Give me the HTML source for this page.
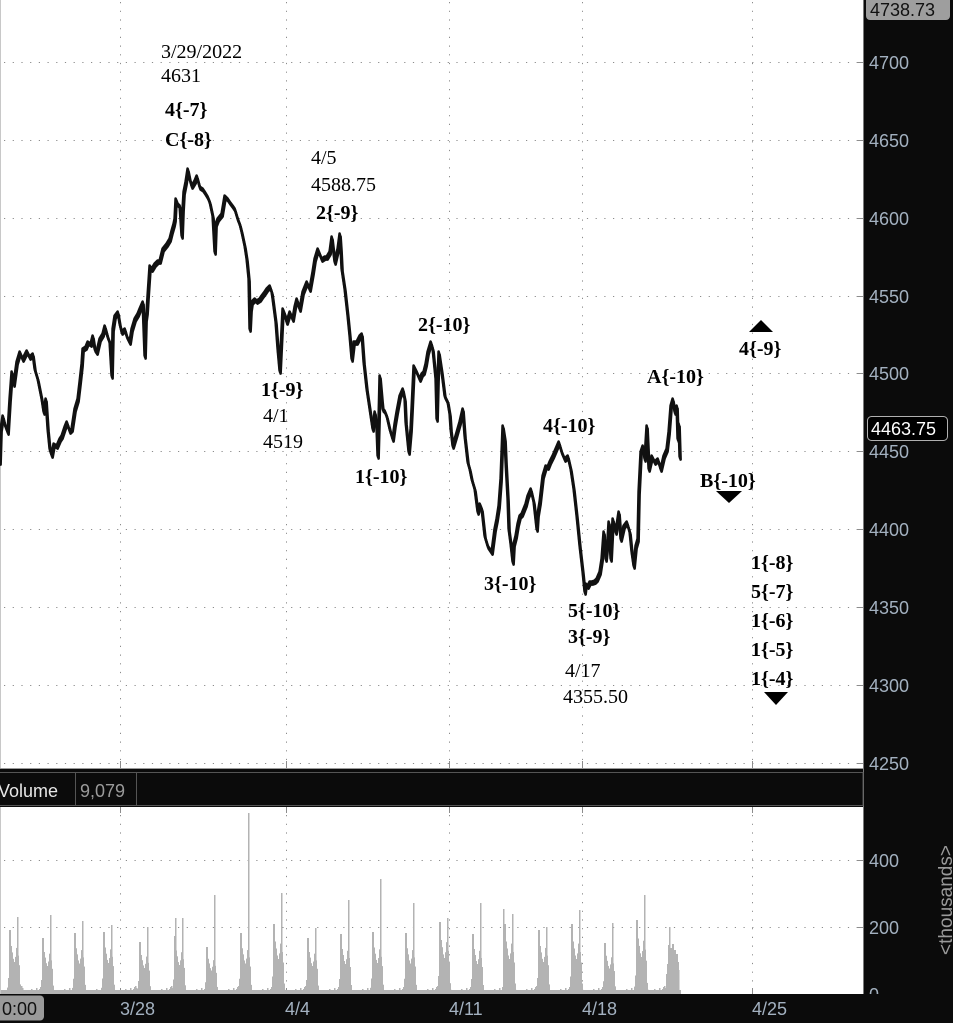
<!DOCTYPE html>
<html><head><meta charset="utf-8">
<style>
html,body{margin:0;padding:0;background:#0b0b0b;}
svg{display:block;}
.ax{font-family:"Liberation Sans","DejaVu Sans",sans-serif;font-size:18px;fill:#a3b1c0;}
.an{font-family:"Liberation Serif","Times New Roman",serif;font-size:20px;fill:#000;}
.b{font-weight:bold;}
</style></head>
<body>
<svg width="953" height="1023" viewBox="0 0 953 1023" xmlns="http://www.w3.org/2000/svg">
<defs>
<g id="vb">
<rect x="-10" y="-10" width="2" height="10"/>
<rect x="-9" y="-25" width="2" height="25"/>
<rect x="-8" y="-100" width="2" height="100"/>
<rect x="-7" y="-75" width="2" height="75"/>
<rect x="-6" y="-65" width="2" height="65"/>
<rect x="-5" y="-55" width="2" height="55"/>
<rect x="-4" y="-50" width="2" height="50"/>
<rect x="-3" y="-48" width="2" height="48"/>
<rect x="-2" y="-58" width="2" height="58"/>
<rect x="-1" y="-72" width="2" height="72"/>
<rect x="0" y="-60" width="2" height="60"/>
<rect x="1" y="-45" width="2" height="45"/>
<rect x="2" y="-15" width="2" height="15"/>
<rect x="3" y="-6" width="1.5" height="6"/>
</g>
<g id="lo">
<rect x="4" y="-2" width="1.5" height="2"/><rect x="5" y="-3" width="1.5" height="3"/>
<rect x="6" y="-2" width="1.5" height="2"/><rect x="7" y="-4" width="1.5" height="4"/>
<rect x="8" y="-3" width="1.5" height="3"/><rect x="9" y="-2" width="1.5" height="2"/>
<rect x="10" y="-3" width="1.5" height="3"/><rect x="11" y="-5" width="1.5" height="5"/>
<rect x="12" y="-3" width="1.5" height="3"/><rect x="13" y="-2" width="1.5" height="2"/>
<rect x="14" y="-4" width="1.5" height="4"/><rect x="15" y="-3" width="1.5" height="3"/>
<rect x="16" y="-6" width="1.5" height="6"/><rect x="17" y="-4" width="1.5" height="4"/>
<rect x="18" y="-3" width="1.5" height="3"/><rect x="19" y="-5" width="1.5" height="5"/>
<rect x="20" y="-7" width="1.5" height="7"/><rect x="21" y="-8" width="1.5" height="8"/>
<rect x="22" y="-6" width="1.5" height="6"/>
</g>
<polyline id="px" fill="none" stroke="#111" stroke-width="2.6" stroke-linejoin="round" stroke-linecap="round" points="0,463 1,430 3,417 5,425 8,433 10,400 12,373 14,385 17,363 20,353 23,360 27,352 30,358 33,355 35,370 38,380 40,390 42,400 44,413 46,400 48,430 50,450 52,456 54,445 57,447 60,440 62,437 65,428 67,423 70,432 72,430 75,410 78,400 80,383 82,365 83,350 86,348 88,343 91,345 93,337 95,350 97,353 100,340 103,335 105,327 108,338 110,343 112,377 113,330 115,317 118,313 120,325 122,333 125,330 127,337 130,343 132,330 135,320 138,315 140,310 143,303 145,357 146,320 147,313 148,297 150,267 152,270 155,265 158,262 160,262 163,250 167,245 170,240 172,232 174,225 175,220 176,200 178,205 180,207 182,237 183,210 184,193 186,183 188,170 190,180 192,187 195,182 197,177 200,188 203,190 205,193 208,198 210,203 213,217 215,253 216,225 218,220 222,215 225,197 228,200 230,203 233,207 235,210 238,220 240,225 242,233 245,247 247,260 249,280 250,330 251,310 252,303 255,300 257,302 260,300 262,297 265,293 267,290 270,287 272,293 273,300 276,323 278,350 280,372 282,330 283,310 285,315 287,323 290,313 293,320 295,308 297,300 300,310 303,293 305,288 307,283 310,290 313,273 315,260 318,250 320,255 322,260 325,258 327,258 330,253 332,238 334,255 335,263 338,250 340,235 341,250 342,270 345,290 348,317 350,337 352,360 354,343 357,343 360,337 362,335 364,363 367,390 370,410 373,430 375,413 377,430 378,457 379,420 380,377 382,400 383,410 385,412 387,417 390,430 393,440 395,425 397,413 400,397 403,390 405,400 406,423 409,453 411,430 412,410 414,367 417,373 420,380 422,375 424,373 426,365 428,353 431,343 433,350 434,360 436,380 437,420 438,380 439,353 442,373 445,397 448,403 450,415 451,430 453,447 456,437 460,423 463,410 465,437 468,463 470,470 472,480 475,490 478,513 480,505 482,510 485,537 488,547 490,550 492,553 495,530 497,520 499,507 501,480 503,427 505,440 506,463 508,500 509,530 511,545 513,563 514,545 516,537 518,525 520,517 522,515 524,510 526,505 528,497 531,490 534,503 537,530 538,515 540,503 543,477 546,467 548,468 550,463 553,457 556,450 559,443 562,453 565,460 568,457 571,470 574,490 577,517 580,547 583,573 585,593 586,585 588,587 590,583 592,583 595,582 597,580 600,573 602,560 604,533 606,560 608,540 609,523 611,560 613,520 616,533 619,513 621,540 624,527 627,523 630,533 632,553 634,567 636,547 638,540 639,493 641,453 643,447 645,460 647,427 649,470 652,457 655,463 658,460 661,470 664,457 667,450 669,433 671,407 673,400 675,413 677,407 678,440 679,425 680,458"/>
</defs>

<!-- backgrounds -->
<rect x="0" y="0" width="953" height="1023" fill="#0b0b0b"/>
<rect x="0" y="0" width="863" height="768" fill="#ffffff"/>
<rect x="0" y="807" width="863" height="187" fill="#ffffff"/>
<line x1="0.5" y1="0" x2="0.5" y2="768" stroke="#c8c8c8"/>
<line x1="0.5" y1="807" x2="0.5" y2="994" stroke="#c8c8c8"/>
<line x1="863.5" y1="0" x2="863.5" y2="994" stroke="#7a7a7a"/>
<line x1="0" y1="768.5" x2="863" y2="768.5" stroke="#9a9a9a"/>

<!-- price grid -->
<g stroke="#8c8c8c" stroke-width="1" stroke-dasharray="1.2 7.5" fill="none">
<line x1="4" y1="62.5" x2="857" y2="62.5"/>
<line x1="4" y1="140.5" x2="857" y2="140.5"/>
<line x1="4" y1="218.5" x2="857" y2="218.5"/>
<line x1="4" y1="296.5" x2="857" y2="296.5"/>
<line x1="4" y1="373.5" x2="857" y2="373.5"/>
<line x1="4" y1="451.5" x2="857" y2="451.5"/>
<line x1="4" y1="529.5" x2="857" y2="529.5"/>
<line x1="4" y1="607.5" x2="857" y2="607.5"/>
<line x1="4" y1="685.5" x2="857" y2="685.5"/>
<line x1="4" y1="763.5" x2="857" y2="763.5"/>
<line x1="120.5" y1="2" x2="120.5" y2="760"/>
<line x1="286.5" y1="2" x2="286.5" y2="760"/>
<line x1="449.5" y1="2" x2="449.5" y2="760"/>
<line x1="582.5" y1="2" x2="582.5" y2="760"/>
<line x1="752.5" y1="2" x2="752.5" y2="760"/>
<!-- volume grid -->
<line x1="4" y1="860.5" x2="857" y2="860.5"/>
<line x1="4" y1="927.5" x2="857" y2="927.5"/>
<line x1="120.5" y1="815" x2="120.5" y2="990"/>
<line x1="286.5" y1="815" x2="286.5" y2="990"/>
<line x1="449.5" y1="815" x2="449.5" y2="990"/>
<line x1="582.5" y1="815" x2="582.5" y2="990"/>
<line x1="752.5" y1="815" x2="752.5" y2="990"/>
</g>
<g stroke="#8c8c8c" stroke-width="1">
<line x1="857" y1="62.5" x2="863" y2="62.5"/>
<line x1="857" y1="140.5" x2="863" y2="140.5"/>
<line x1="857" y1="218.5" x2="863" y2="218.5"/>
<line x1="857" y1="296.5" x2="863" y2="296.5"/>
<line x1="857" y1="373.5" x2="863" y2="373.5"/>
<line x1="857" y1="451.5" x2="863" y2="451.5"/>
<line x1="857" y1="529.5" x2="863" y2="529.5"/>
<line x1="857" y1="607.5" x2="863" y2="607.5"/>
<line x1="857" y1="685.5" x2="863" y2="685.5"/>
<line x1="857" y1="763.5" x2="863" y2="763.5"/>
<line x1="857" y1="860.5" x2="863" y2="860.5"/>
<line x1="857" y1="927.5" x2="863" y2="927.5"/>
<line x1="120.5" y1="761" x2="120.5" y2="768"/>
<line x1="286.5" y1="761" x2="286.5" y2="768"/>
<line x1="449.5" y1="761" x2="449.5" y2="768"/>
<line x1="582.5" y1="761" x2="582.5" y2="768"/>
<line x1="752.5" y1="761" x2="752.5" y2="768"/>
<line x1="120.5" y1="807" x2="120.5" y2="813"/>
<line x1="286.5" y1="807" x2="286.5" y2="813"/>
<line x1="449.5" y1="807" x2="449.5" y2="813"/>
<line x1="582.5" y1="807" x2="582.5" y2="813"/>
<line x1="752.5" y1="807" x2="752.5" y2="813"/>
<line x1="120.5" y1="988" x2="120.5" y2="994"/>
<line x1="286.5" y1="988" x2="286.5" y2="994"/>
<line x1="449.5" y1="988" x2="449.5" y2="994"/>
<line x1="582.5" y1="988" x2="582.5" y2="994"/>
<line x1="752.5" y1="988" x2="752.5" y2="994"/>
</g>

<!-- price series (layered for bar-like thickness) -->
<use href="#px" transform="translate(0.6,1.6)"/>
<use href="#px" transform="translate(-0.4,-1.4)"/>
<use href="#px"/>

<!-- volume bars -->
<g fill="#b3b3b3">
<rect x="1" y="990" width="680" height="4"/>
<use href="#lo" transform="translate(0,994)"/>
<use href="#lo" transform="translate(20,994)"/>
<use href="#lo" transform="translate(53,994)"/>
<use href="#lo" transform="translate(85,994)"/>
<use href="#lo" transform="translate(114,994)"/>
<use href="#lo" transform="translate(150,994)"/>
<use href="#lo" transform="translate(185,994)"/>
<use href="#lo" transform="translate(217,994)"/>
<use href="#lo" transform="translate(251,994)"/>
<use href="#lo" transform="translate(284,994)"/>
<use href="#lo" transform="translate(318,994)"/>
<use href="#lo" transform="translate(351,994)"/>
<use href="#lo" transform="translate(383,994)"/>
<use href="#lo" transform="translate(416,994)"/>
<use href="#lo" transform="translate(450,994)"/>
<use href="#lo" transform="translate(483,994)"/>
<use href="#lo" transform="translate(515,994)"/>
<use href="#lo" transform="translate(549,994)"/>
<use href="#lo" transform="translate(582,994)"/>
<use href="#lo" transform="translate(615,994)"/>
<use href="#lo" transform="translate(643,994)"/>

<use href="#vb" transform="translate(17,994) scale(1,0.64)"/>
<use href="#vb" transform="translate(50,994) scale(1,0.56)"/>
<use href="#vb" transform="translate(82,994) scale(1,0.61)"/>
<use href="#vb" transform="translate(111,994) scale(1,0.62)"/>
<use href="#vb" transform="translate(147,994) scale(1,0.52)"/>
<use href="#vb" transform="translate(182,994) scale(1,0.58)"/>
<use href="#vb" transform="translate(214,994) scale(1,0.47)"/>
<use href="#vb" transform="translate(248,994) scale(1,0.61)"/>
<use href="#vb" transform="translate(281,994) scale(1,0.70)"/>
<use href="#vb" transform="translate(315,994) scale(1,0.56)"/>
<use href="#vb" transform="translate(348,994) scale(1,0.60)"/>
<use href="#vb" transform="translate(380,994) scale(1,0.62)"/>
<use href="#vb" transform="translate(413,994) scale(1,0.61)"/>
<use href="#vb" transform="translate(447,994) scale(1,0.72)"/>
<use href="#vb" transform="translate(480,994) scale(1,0.60)"/>
<use href="#vb" transform="translate(512,994) scale(1,0.70)"/>
<use href="#vb" transform="translate(546,994) scale(1,0.64)"/>
<use href="#vb" transform="translate(579,994) scale(1,0.70)"/>
<use href="#vb" transform="translate(612,994) scale(1,0.51)"/>
<use href="#vb" transform="translate(644,994) scale(1,0.74)"/>

<!-- spikes -->
<rect x="17" y="917" width="1.5" height="77"/>
<rect x="50" y="915" width="1.5" height="79"/>
<rect x="82" y="921" width="1.5" height="73"/>
<rect x="111" y="925" width="1.5" height="69"/>
<rect x="147" y="927" width="1.5" height="67"/>
<rect x="175" y="918" width="1.5" height="76"/>
<rect x="182" y="918" width="1.5" height="76"/>
<rect x="214" y="895" width="1.5" height="99"/>
<rect x="248" y="813" width="1.5" height="181"/>
<rect x="281" y="893" width="1.5" height="101"/>
<rect x="315" y="928" width="1.5" height="66"/>
<rect x="348" y="900" width="1.5" height="94"/>
<rect x="380" y="879" width="1.5" height="115"/>
<rect x="413" y="903" width="1.5" height="91"/>
<rect x="447" y="918" width="1.5" height="76"/>
<rect x="480" y="903" width="1.5" height="91"/>
<rect x="503" y="909" width="1.5" height="85"/>
<rect x="512" y="914" width="1.5" height="80"/>
<rect x="546" y="927" width="1.5" height="67"/>
<rect x="579" y="910" width="1.5" height="84"/>
<rect x="612" y="923" width="1.5" height="71"/>
<rect x="644" y="895" width="1.5" height="99"/>
<!-- last partial session -->
<rect x="666" y="974" width="2" height="20"/>
<rect x="667" y="964" width="2" height="30"/>
<rect x="668" y="945" width="2" height="49"/>
<rect x="669" y="927" width="1.5" height="67"/>
<rect x="670" y="948" width="2" height="46"/>
<rect x="671" y="952" width="2" height="42"/>
<rect x="672" y="944" width="2" height="50"/>
<rect x="673" y="955" width="2" height="39"/>
<rect x="674" y="950" width="2" height="44"/>
<rect x="675" y="958" width="2" height="36"/>
<rect x="676" y="954" width="2" height="40"/>
<rect x="677" y="962" width="2" height="32"/>
<rect x="678" y="970" width="1.5" height="24"/>
</g>

<!-- annotations -->
<g class="an">
<text x="161" y="58">3/29/2022</text>
<text x="161" y="82">4631</text>
<text class="b" x="165" y="116">4{-7}</text>
<text class="b" x="165" y="146">C{-8}</text>
<text x="311" y="164">4/5</text>
<text x="311" y="191">4588.75</text>
<text class="b" x="316" y="219">2{-9}</text>
<text class="b" x="261" y="396">1{-9}</text>
<text x="263" y="422">4/1</text>
<text x="263" y="448">4519</text>
<text class="b" x="418" y="331">2{-10}</text>
<text class="b" x="355" y="483">1{-10}</text>
<text class="b" x="543" y="432">4{-10}</text>
<text class="b" x="484" y="590">3{-10}</text>
<text class="b" x="568" y="617">5{-10}</text>
<text class="b" x="568" y="643">3{-9}</text>
<text x="565" y="677">4/17</text>
<text x="563" y="703">4355.50</text>
<text class="b" x="647" y="383">A{-10}</text>
<text class="b" x="739" y="355">4{-9}</text>
<text class="b" x="700" y="487">B{-10}</text>
<text class="b" x="751" y="569">1{-8}</text>
<text class="b" x="751" y="598">5{-7}</text>
<text class="b" x="751" y="627">1{-6}</text>
<text class="b" x="751" y="656">1{-5}</text>
<text class="b" x="751" y="685">1{-4}</text>
</g>
<polygon points="749,332 773,332 761,320" fill="#000"/>
<polygon points="716,491 742,491 729,503" fill="#000"/>
<polygon points="764,692 788,692 776,705" fill="#000"/>

<!-- volume header -->
<rect x="0" y="769" width="863" height="38" fill="#0b0b0b"/>
<rect x="-1" y="772.5" width="864" height="33" fill="none" stroke="#555"/>
<line x1="75.5" y1="773" x2="75.5" y2="806" stroke="#555"/>
<line x1="136.5" y1="773" x2="136.5" y2="806" stroke="#555"/>
<text x="-2" y="797" font-family="Liberation Sans, DejaVu Sans, sans-serif" font-size="18" fill="#e6e6e6">Volume</text>
<text x="80" y="797" font-family="Liberation Sans, DejaVu Sans, sans-serif" font-size="18" fill="#9a9a9a">9,079</text>

<!-- price axis labels -->
<g class="ax">
<text x="869" y="69">4700</text>
<text x="869" y="147">4650</text>
<text x="869" y="225">4600</text>
<text x="869" y="303">4550</text>
<text x="869" y="380">4500</text>
<text x="869" y="458">4450</text>
<text x="869" y="536">4400</text>
<text x="869" y="614">4350</text>
<text x="869" y="692">4300</text>
<text x="869" y="770">4250</text>
<text x="869" y="867">400</text>
<text x="869" y="934">200</text>
<text x="869" y="1001">0</text>
</g>
<rect x="866" y="-6" width="84" height="26" rx="4" fill="#9e9e9e"/>
<text x="870" y="16" font-family="Liberation Sans, DejaVu Sans, sans-serif" font-size="18" fill="#111">4738.73</text>
<rect x="867.5" y="416.5" width="80" height="24" rx="4" fill="#000" stroke="#b0b0b0"/>
<text x="871" y="435" font-family="Liberation Sans, DejaVu Sans, sans-serif" font-size="18" fill="#fff">4463.75</text>
<text transform="translate(952,900) rotate(-90)" text-anchor="middle" font-family="Liberation Sans, DejaVu Sans, sans-serif" font-size="19" fill="#9a9a9a">&lt;thousands&gt;</text>

<!-- bottom axis -->
<rect x="0" y="994" width="953" height="29" fill="#0b0b0b"/>
<rect x="-4" y="995.5" width="48" height="25" rx="4" fill="#9a9a9a"/>
<text x="2" y="1015" font-family="Liberation Sans, DejaVu Sans, sans-serif" font-size="18" fill="#111">0:00</text>
<g class="ax">
<text x="120" y="1015">3/28</text>
<text x="285" y="1015">4/4</text>
<text x="449" y="1015">4/11</text>
<text x="582" y="1015">4/18</text>
<text x="752" y="1015">4/25</text>
</g>
</svg>
</body></html>
